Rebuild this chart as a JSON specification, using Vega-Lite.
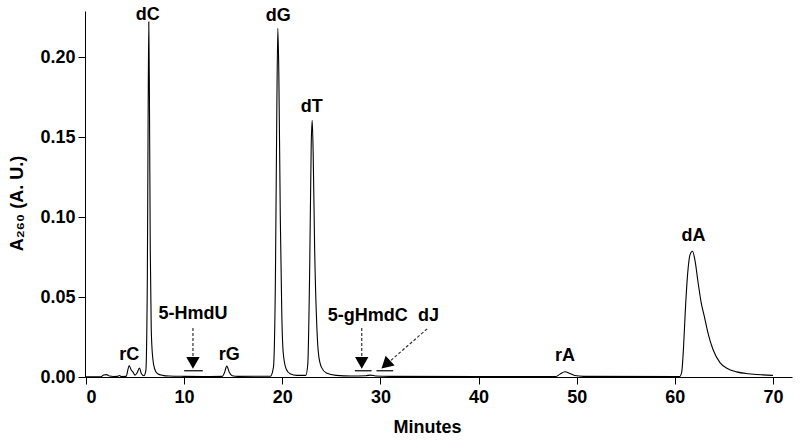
{
  "$schema": "https://vega.github.io/schema/vega-lite/v6.json",
  "width": 707,
  "height": 366,
  "autosize": "none",
  "padding": {"left": 85, "top": 11, "right": 8, "bottom": 64},
  "background": "white",
  "config": {
    "view": {"stroke": null},
    "font": "Liberation Sans",
    "axis": {
      "domainColor": "black", "tickColor": "black", "domainWidth": 1, "tickWidth": 1,
      "tickSize": 7, "grid": false, "labelColor": "black", "titleColor": "black",
      "labelFont": "Liberation Sans", "titleFont": "Liberation Sans",
      "labelFontSize": 18, "labelFontWeight": "bold", "titleFontSize": 18, "titleFontWeight": "bold"
    }
  },
  "datasets": {
    "trace": [
      {"t": 0, "a": 0.0002}, {"t": 1.5, "a": 0.0002}, {"t": 1.8, "a": 0.0012}, {"t": 2.1, "a": 0.0015},
      {"t": 2.4, "a": 0.0006}, {"t": 2.8, "a": 0.0003}, {"t": 3.2, "a": 0.0004}, {"t": 3.4, "a": 0.0009},
      {"t": 3.6, "a": 0.0003}, {"t": 4.1, "a": 0.0004}, {"t": 4.25, "a": 0.004}, {"t": 4.4, "a": 0.0072},
      {"t": 4.6, "a": 0.0045}, {"t": 4.8, "a": 0.003}, {"t": 5.0, "a": 0.0012}, {"t": 5.2, "a": 0.0025},
      {"t": 5.45, "a": 0.0056}, {"t": 5.65, "a": 0.002}, {"t": 5.9, "a": 0.0008}, {"t": 6.1, "a": 0.004},
      {"t": 6.25, "a": 0.06}, {"t": 6.33, "a": 0.16}, {"t": 6.4, "a": 0.222}, {"t": 6.47, "a": 0.17},
      {"t": 6.55, "a": 0.08}, {"t": 6.65, "a": 0.03}, {"t": 6.8, "a": 0.012}, {"t": 7.0, "a": 0.005},
      {"t": 7.3, "a": 0.002}, {"t": 7.8, "a": 0.001}, {"t": 8.5, "a": 0.0006}, {"t": 10, "a": 0.0004},
      {"t": 12, "a": 0.0003}, {"t": 13.9, "a": 0.0004}, {"t": 14.1, "a": 0.0025}, {"t": 14.35, "a": 0.0068},
      {"t": 14.6, "a": 0.003}, {"t": 14.9, "a": 0.0008}, {"t": 15.5, "a": 0.0004}, {"t": 18.8, "a": 0.0005},
      {"t": 19.1, "a": 0.006}, {"t": 19.3, "a": 0.06}, {"t": 19.45, "a": 0.17}, {"t": 19.55, "a": 0.218},
      {"t": 19.65, "a": 0.19}, {"t": 19.8, "a": 0.1}, {"t": 19.95, "a": 0.04}, {"t": 20.1, "a": 0.015},
      {"t": 20.4, "a": 0.005}, {"t": 20.8, "a": 0.002}, {"t": 21.5, "a": 0.001}, {"t": 22.4, "a": 0.001},
      {"t": 22.6, "a": 0.008}, {"t": 22.8, "a": 0.07}, {"t": 22.95, "a": 0.145}, {"t": 23.05, "a": 0.1605},
      {"t": 23.15, "a": 0.14}, {"t": 23.3, "a": 0.08}, {"t": 23.5, "a": 0.035}, {"t": 23.7, "a": 0.014},
      {"t": 24.0, "a": 0.006}, {"t": 24.5, "a": 0.0025}, {"t": 25.5, "a": 0.001}, {"t": 27, "a": 0.0006},
      {"t": 28.5, "a": 0.0008}, {"t": 29.0, "a": 0.0012}, {"t": 29.5, "a": 0.0006}, {"t": 31, "a": 0.0004},
      {"t": 40, "a": 0.0003}, {"t": 47.9, "a": 0.0003}, {"t": 48.3, "a": 0.0018}, {"t": 48.8, "a": 0.0033},
      {"t": 49.3, "a": 0.0022}, {"t": 49.8, "a": 0.0009}, {"t": 50.7, "a": 0.0004}, {"t": 60.5, "a": 0.0003},
      {"t": 60.7, "a": 0.003}, {"t": 60.9, "a": 0.02}, {"t": 61.05, "a": 0.039}, {"t": 61.3, "a": 0.064},
      {"t": 61.55, "a": 0.0765}, {"t": 61.8, "a": 0.0786}, {"t": 62.05, "a": 0.073}, {"t": 62.35, "a": 0.06},
      {"t": 62.7, "a": 0.046}, {"t": 63.0, "a": 0.038}, {"t": 63.4, "a": 0.027}, {"t": 63.9, "a": 0.017},
      {"t": 64.6, "a": 0.009}, {"t": 65.3, "a": 0.0055}, {"t": 66.3, "a": 0.0032}, {"t": 67.5, "a": 0.002},
      {"t": 69, "a": 0.0013}, {"t": 70, "a": 0.001}
    ],
    "labels": [
      {"t": 6.3, "a": 0.2265, "name": "dC"},
      {"t": 19.6, "a": 0.2255, "name": "dG"},
      {"t": 23.0, "a": 0.1687, "name": "dT"},
      {"t": 4.4, "a": 0.0138, "name": "rC"},
      {"t": 10.9, "a": 0.0395, "name": "5-HmdU"},
      {"t": 14.6, "a": 0.0138, "name": "rG"},
      {"t": 28.7, "a": 0.038, "name": "5-gHmdC"},
      {"t": 34.9, "a": 0.038, "name": "dJ"},
      {"t": 48.8, "a": 0.0132, "name": "rA"},
      {"t": 61.9, "a": 0.0884, "name": "dA"}
    ],
    "arrows": [
      {"t": 10.9, "a": 0.0307, "t2": 10.9, "a2": 0.0113},
      {"t": 28.1, "a": 0.0307, "t2": 28.1, "a2": 0.0113},
      {"t": 34.76, "a": 0.0301, "t2": 31.0, "a2": 0.0100}
    ],
    "bars": [
      {"t": 10.0, "t2": 11.9, "a": 0.0039},
      {"t": 27.4, "t2": 29.1, "a": 0.0039},
      {"t": 29.6, "t2": 31.3, "a": 0.0039}
    ],
    "heads": [
      {"t": 10.9, "a": 0.0088},
      {"t": 28.1, "a": 0.0088}
    ],
    "headsJ": [
      {"t": 30.55, "a": 0.0078}
    ]
  },
  "layer": [
    {
      "data": {"name": "trace"},
      "mark": {"type": "line", "color": "black", "strokeWidth": 1.1, "interpolate": "monotone"},
      "encoding": {
        "x": {"field": "t", "type": "quantitative", "scale": {"domain": [-0.1, 71.94], "nice": false, "zero": false},
          "axis": {"values": [0, 10, 20, 30, 40, 50, 60, 70], "title": "Minutes", "labelPadding": 4, "titlePadding": 12, "titleX": 342}},
        "y": {"field": "a", "type": "quantitative", "scale": {"domain": [0, 0.2288], "nice": false},
          "axis": {"values": [0, 0.05, 0.1, 0.15, 0.2], "format": ".2f", "title": "A₂₆₀ (A. U.)", "labelPadding": 3, "titlePadding": 13, "titleY": 192}}
      }
    },
    {
      "data": {"name": "labels"},
      "mark": {"type": "text", "fontSize": 18, "fontWeight": "bold", "color": "black", "align": "center", "baseline": "middle", "font": "Liberation Sans"},
      "encoding": {
        "x": {"field": "t", "type": "quantitative"},
        "y": {"field": "a", "type": "quantitative"},
        "text": {"field": "name"}
      }
    },
    {
      "data": {"name": "arrows"},
      "mark": {"type": "rule", "color": "#333", "strokeWidth": 1.2, "strokeDash": [3, 2]},
      "encoding": {
        "x": {"field": "t", "type": "quantitative"},
        "y": {"field": "a", "type": "quantitative"},
        "x2": {"field": "t2"},
        "y2": {"field": "a2"}
      }
    },
    {
      "data": {"name": "bars"},
      "mark": {"type": "rule", "color": "black", "strokeWidth": 1.2},
      "encoding": {
        "x": {"field": "t", "type": "quantitative"},
        "x2": {"field": "t2"},
        "y": {"field": "a", "type": "quantitative"}
      }
    },
    {
      "data": {"name": "heads"},
      "mark": {"type": "point", "shape": "triangle-down", "filled": true, "color": "black", "opacity": 1, "size": 180},
      "encoding": {
        "x": {"field": "t", "type": "quantitative"},
        "y": {"field": "a", "type": "quantitative"}
      }
    },
    {
      "data": {"name": "headsJ"},
      "mark": {"type": "point", "shape": "triangle-down", "filled": true, "color": "black", "opacity": 1, "size": 180, "angle": 48},
      "encoding": {
        "x": {"field": "t", "type": "quantitative"},
        "y": {"field": "a", "type": "quantitative"}
      }
    }
  ]
}
